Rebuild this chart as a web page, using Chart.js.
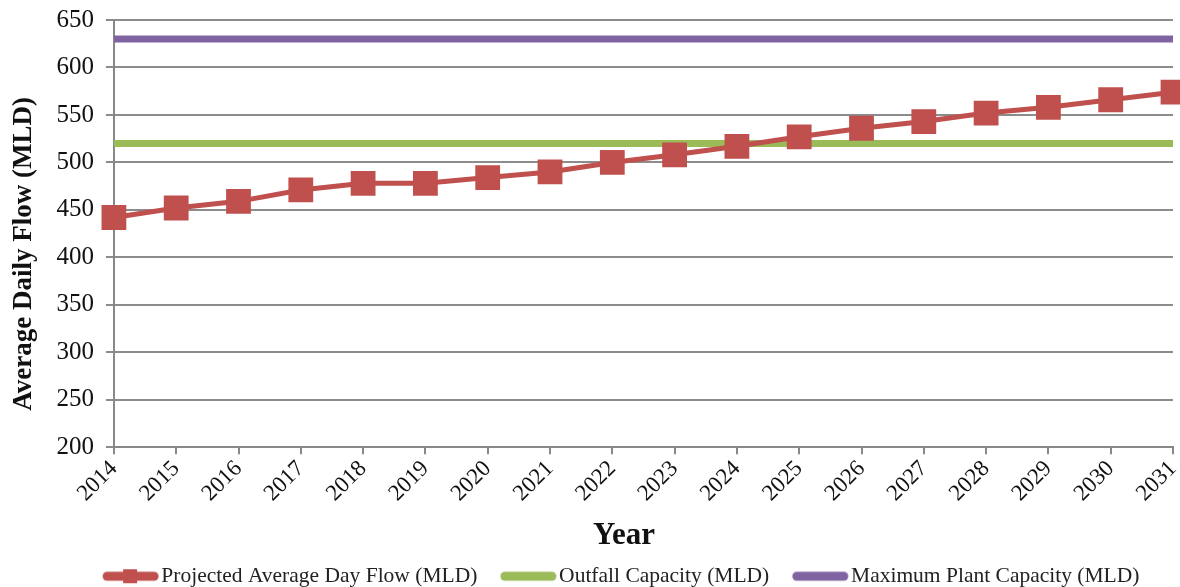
<!DOCTYPE html>
<html>
<head>
<meta charset="utf-8">
<script src="https://cdn.jsdelivr.net/npm/chart.js@4/dist/chart.umd.min.js"></script>
<style>
  html, body { margin: 0; padding: 0; background: #fff; }
  #wrap { width: 1180px; height: 587px; }
</style>
</head>
<body>
<div id="wrap"><canvas id="flowChart"></canvas></div>
<script>
// data
var years = ['2014','2015','2016','2017','2018','2019','2020','2021','2022','2023','2024','2025','2026','2027','2028','2029','2030','2031'];
var projectedFlow = [442, 452, 459, 471, 478, 478, 484, 490, 500, 508, 517, 527, 536, 543, 552, 558, 566, 574];
var outfallCapacity = [520, 520, 520, 520, 520, 520, 520, 520, 520, 520, 520, 520, 520, 520, 520, 520, 520, 520];
var plantCapacity = [630, 630, 630, 630, 630, 630, 630, 630, 630, 630, 630, 630, 630, 630, 630, 630, 630, 630];
var seriesNames = ['Projected Average Day Flow (MLD)', 'Outfall Capacity (MLD)', 'Maximum Plant Capacity (MLD)'];
var seriesColors = ['#C0504D', '#9BBB59', '#8064A2'];

var serif = "'Liberation Serif', 'Times New Roman', serif";

// legend pictures: thick line (with a square on the first one),
// drawn off-centre so there is a gap before it and almost none after
function legendIcon(color, withSquare) {
    var c = document.createElement('canvas');
    c.width = 120; c.height = 16;
    var g = c.getContext('2d');
    g.strokeStyle = color;
    g.lineWidth = 9;
    g.lineCap = 'round';
    g.beginPath();
    g.moveTo(50, 8);
    g.lineTo(97, 8);
    g.stroke();
    if (withSquare) {
        g.fillStyle = color;
        g.fillRect(66, 1, 14, 14);
    }
    return c;
}

// nudge the legend a little to the right, like the original
var legendShift = {
    id: 'legendShift',
    afterLayout: function(chart) {
        chart.legend.left += 22;
        chart.legend.right += 22;
    }
};

var ctx = document.getElementById('flowChart');

new Chart(ctx, {
    type: 'line',
    data: {
        labels: years,
        datasets: [{
            label: seriesNames[0],
            data: projectedFlow,
            borderColor: seriesColors[0],
            backgroundColor: seriesColors[0],
            borderWidth: 5,
            pointStyle: 'rect',
            pointRadius: 14,
            pointHoverRadius: 14,
            tension: 0
        }, {
            label: seriesNames[1],
            data: outfallCapacity,
            borderColor: seriesColors[1],
            backgroundColor: seriesColors[1],
            borderWidth: 7,
            pointRadius: 0
        }, {
            label: seriesNames[2],
            data: plantCapacity,
            borderColor: seriesColors[2],
            backgroundColor: seriesColors[2],
            borderWidth: 7,
            pointRadius: 0
        }]
    },
    plugins: [legendShift],
    options: {
        responsive: true,
        maintainAspectRatio: false,
        animation: false,
        layout: { autoPadding: false, padding: { top: 20, right: 7, left: 6, bottom: -10 } },
        plugins: {
            tooltip: { enabled: false },
            legend: {
                position: 'bottom',
                labels: {
                    usePointStyle: true,
                    pointStyleWidth: 67,
                    padding: 4,
                    color: '#222',
                    font: { family: serif, size: 21.5 },
                    generateLabels: function(chart) {
                        return chart.data.datasets.map(function(ds, i) {
                            return {
                                text: ds.label,
                                pointStyle: legendIcon(seriesColors[i], i === 0),
                                fillStyle: seriesColors[i],
                                strokeStyle: seriesColors[i],
                                lineWidth: 0,
                                hidden: false,
                                datasetIndex: i,
                                fontColor: '#222'
                            };
                        });
                    }
                }
            }
        },
        scales: {
            x: {
                offset: false,
                afterFit: function(scale) {
                    // don't reserve room on the right for the last slanted label
                    scale.paddingRight = 0;
                },
                grid: {
                    display: true,
                    drawOnChartArea: false,
                    drawTicks: true,
                    tickLength: 7,
                    color: '#888',
                    lineWidth: 2
                },
                border: { color: '#888', width: 2 },
                ticks: {
                    color: '#111',
                    font: { family: serif, size: 23 },
                    minRotation: 45,
                    maxRotation: 45,
                    autoSkip: false,
                    padding: 1
                },
                title: {
                    display: true,
                    // trailing spaces pull the word a bit left of centre, as in the original
                    text: 'Year     ',
                    color: '#111',
                    font: { family: serif, size: 31, weight: 'bold' },
                    padding: { top: 9, bottom: 7 }
                }
            },
            y: {
                min: 200,
                max: 650,
                afterFit: function(scale) {
                    scale.paddingTop = 0;
                },
                ticks: {
                    stepSize: 50,
                    color: '#111',
                    font: { family: serif, size: 25 },
                    padding: 12
                },
                grid: {
                    color: '#8c8c8c',
                    lineWidth: 2,
                    tickLength: 8
                },
                border: { color: '#888', width: 2 },
                title: {
                    display: true,
                    // trailing spaces move the title down a little
                    text: 'Average Daily Flow (MLD)      ',
                    color: '#111',
                    font: { family: serif, size: 27, weight: 'bold' },
                    padding: { top: 2, bottom: 4 }
                }
            }
        }
    }
});
</script>
</body>
</html>
